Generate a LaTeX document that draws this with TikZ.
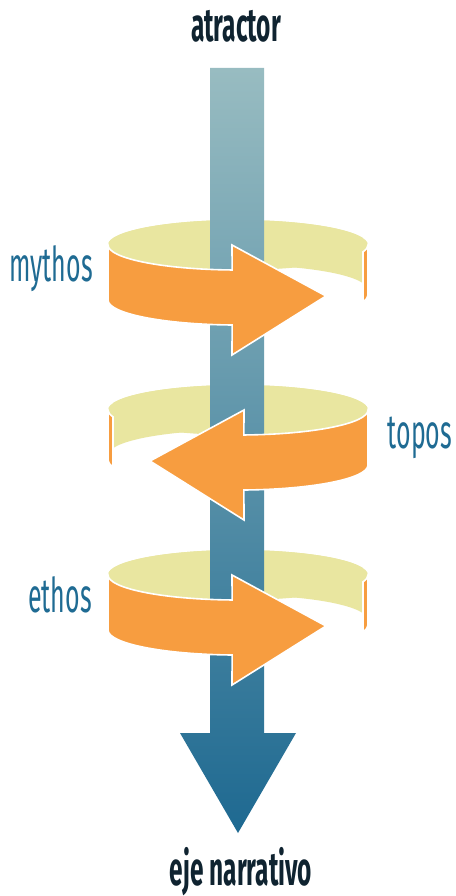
\documentclass[tikz,border=0pt]{standalone}
\usepackage{fontspec}
\newfontfamily\lblfont{Fira Sans}[FakeStretch=0.52]
\newfontfamily\ttlfont{Fira Sans}[FakeStretch=0.52]
\usetikzlibrary{calc}
\definecolor{myorange}{HTML}{F79D40}
\definecolor{myyellow}{HTML}{E9E6A0}
\definecolor{lblblue}{HTML}{1F6B93}
\definecolor{ttldark}{HTML}{0F2330}
\definecolor{shafttop}{HTML}{98BCC1}
\definecolor{shaftbot}{HTML}{1E6991}
\tikzset{
  yelpart/.style={fill=myyellow},
  orpart/.style={fill=myorange, draw=white, line width=1.6pt, line join=miter},
  lbl/.style={text=lblblue, inner sep=0pt, anchor=base, font=\lblfont\fontsize{48}{48}\selectfont},
  ttl/.style={text=ttldark, inner sep=0pt, anchor=base, font=\ttlfont\bfseries\fontsize{47}{47}\selectfont},
  ell/.style={x radius=130pt, y radius=25pt}
}
% ring whose arrow points right, upper ellipse centre at pixel y = #1
\newcommand\ringyelR[1]{%
  \fill[yelpart] (238,-#1) ellipse [x radius=130pt, y radius=25pt];
  \fill[yelpart] (108,-#1) arc[start angle=180, end angle=16, ell] -- ++(0,-45) arc[start angle=16, end angle=180, ell] -- cycle;
}
\newcommand\ringyelL[1]{%
  \fill[yelpart] (238,-#1) ellipse [x radius=130pt, y radius=25pt];
  \fill[yelpart] (368,-#1) arc[start angle=0, end angle=164, ell] -- ++(0,-45) arc[start angle=164, end angle=0, ell] -- cycle;
}
\newcommand\ringorR[1]{%
  \filldraw[orpart] (368,-#1) arc[start angle=0, end angle=-16, ell] -- ++(0,-50) arc[start angle=-16, end angle=0, ell] -- cycle;
  \filldraw[orpart] (108,-#1) arc[start angle=180, end angle=267.4, ell]
    -- (232,{-#1}) -- (326,{-#1-51}) -- (232,{-#1-110}) -- (232.1,{-#1-80})
    arc[start angle=267.4, end angle=180, ell] -- cycle;
}
\newcommand\ringorL[1]{%
  \filldraw[orpart] (108,-#1) arc[start angle=180, end angle=196, ell] -- ++(0,-50) arc[start angle=196, end angle=180, ell] -- cycle;
  \filldraw[orpart] (368,-#1) arc[start angle=360, end angle=272.6, ell]
    -- (244,{-#1}) -- (150,{-#1-51}) -- (244,{-#1-110}) -- (243.9,{-#1-80})
    arc[start angle=272.6, end angle=360, ell] -- cycle;
}
\begin{document}
\begin{tikzpicture}[x=1pt, y=1pt]
\fill[white] (0,0) rectangle (455,-896);
\useasboundingbox (0,0) rectangle (455,-896);
% back (inner) faces of the three rings
\ringyelR{245}
\ringyelL{410}
\ringyelR{575}
% narrative axis
\shade[top color=shafttop, bottom color=shaftbot]
  (210,-68) -- (264,-68) -- (264,-733) -- (296,-733) -- (238,-833) -- (180,-733) -- (210,-733) -- cycle;
% front faces with arrow heads
\ringorR{245}
\ringorL{410}
\ringorR{575}
% texts
\node[ttl] (atr) at (236,-42) {atractor};
\node[ttl] (eje) at (241,-885) {eje narrativo};
\node[lbl] (my) at (51,-281) {mythos};
\node[lbl] (to) at (420,-448) {topos};
\node[lbl] (et) at (60,-612) {ethos};
\end{tikzpicture}
\end{document}
